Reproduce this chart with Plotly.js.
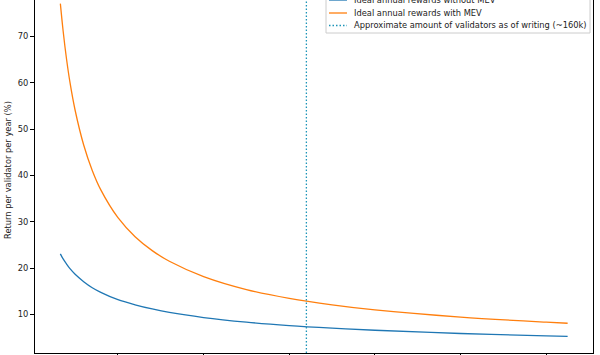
<!DOCTYPE html>
<html>
<head>
<meta charset="utf-8">
<script src="https://cdn.plot.ly/plotly-3.0.1.min.js"></script>
<style>
  html, body { margin: 0; padding: 0; background: #fff; overflow: hidden; width: 600px; height: 355px; }
  #chart { position: absolute; left: 0; top: -33px; width: 600px; height: 426px; }
</style>
</head>
<body>
<div id="chart"></div>
<script>
// Number of active validators
const validators = [16384, 18000, 20000, 22000, 25000, 30000, 35000, 40000, 50000, 60000, 70000,
                    80000, 100000, 125000, 150000, 175000, 200000, 250000, 300000, 312500];
// Ideal annual return per validator, no MEV (%)
const rewardsNoMev = [23.1, 22.0, 20.9, 19.9, 18.7, 17.1, 15.8, 14.8, 13.2, 12.1, 11.2,
                      10.45, 9.35, 8.36, 7.63, 7.07, 6.61, 5.91, 5.40, 5.29];
// Ideal annual return per validator, including MEV (%)
const rewardsMev = [77.1, 71.2, 65.1, 60.1, 54.1, 46.6, 41.1, 36.9, 30.9, 26.8, 23.8,
                    21.5, 18.2, 15.4, 13.5, 12.1, 11.0, 9.45, 8.35, 8.12];
// Validator count at time of writing
const currentValidators = 160000;

const seriesNames = [
  'Ideal annual rewards without MEV',
  'Ideal annual rewards with MEV',
  'Approximate amount of validators as of writing (~160k)'
];
const seriesColors = ['#1f77b4', '#ff7f0e', '#1c94b8'];

const xTicks = [50000, 100000, 150000, 200000, 250000, 300000];
const yTicks = [10, 20, 30, 40, 50, 60, 70];

const font = { family: 'DejaVu Sans, sans-serif', size: 8.3, color: '#222' };
const dotted = '1.5px,2px';

// plot box in page pixels (the figure is shifted up so its top edge is clipped)
const box = { left: 35, width: 558, bottom: 353, height: 366 };
const fx = p => (p - box.left) / box.width;
const fy = p => (box.bottom - p) / box.height;

const traces = [
  {
    x: validators, y: rewardsNoMev, type: 'scatter', mode: 'lines',
    name: seriesNames[0],
    line: { color: seriesColors[0], width: 1.3, shape: 'spline' }
  },
  {
    x: validators, y: rewardsMev, type: 'scatter', mode: 'lines',
    name: seriesNames[1],
    line: { color: seriesColors[1], width: 1.3, shape: 'spline' }
  }
];

// legend box in the upper-right corner, matplotlib style
const legendRows = [0, 13, 25.5];
const shapes = [
  {
    type: 'line', xref: 'x', yref: 'paper',
    x0: currentValidators, x1: currentValidators, y0: 0, y1: 1,
    line: { color: seriesColors[2], width: 1.3, dash: dotted }
  },
  {
    type: 'rect', xref: 'paper', yref: 'paper',
    x0: fx(326), x1: fx(590), y0: fy(33), y1: fy(-9),
    fillcolor: 'rgba(255,255,255,0.8)', line: { color: '#cccccc', width: 1 }
  }
];
const annotations = [];
seriesNames.forEach((name, i) => {
  shapes.push({
    type: 'line', xref: 'paper', yref: 'paper',
    x0: fx(329), x1: fx(347), y0: fy(legendRows[i]), y1: fy(legendRows[i]),
    line: { color: seriesColors[i], width: 1.3, dash: i === 2 ? dotted : 'solid' }
  });
  annotations.push({
    xref: 'paper', yref: 'paper', x: fx(352), y: fy(legendRows[i]),
    xanchor: 'left', yanchor: 'middle', showarrow: false,
    text: name, font: font
  });
});

const layout = {
  width: 600, height: 426,
  margin: { l: 35, r: 7, t: 20, b: 40 },
  paper_bgcolor: '#fff', plot_bgcolor: '#fff',
  font: font,
  showlegend: false,
  xaxis: {
    range: [1578, 327306],
    tickvals: xTicks, showticklabels: false,
    ticks: 'outside', ticklen: 4, tickcolor: '#000', tickwidth: 1,
    showgrid: false, zeroline: false,
    showline: true, mirror: true, linecolor: '#000', linewidth: 1
  },
  yaxis: {
    range: [1.7, 80.7],
    tickvals: yTicks,
    ticks: 'outside', ticklen: 4, tickcolor: '#000', tickwidth: 1,
    showgrid: false, zeroline: false,
    showline: true, mirror: true, linecolor: '#000', linewidth: 1,
    title: { text: 'Return per validator per year (%)', font: font, standoff: 4 }
  },
  shapes: shapes,
  annotations: annotations
};

Plotly.newPlot('chart', traces, layout, { staticPlot: true, displayModeBar: false });
</script>
</body>
</html>
